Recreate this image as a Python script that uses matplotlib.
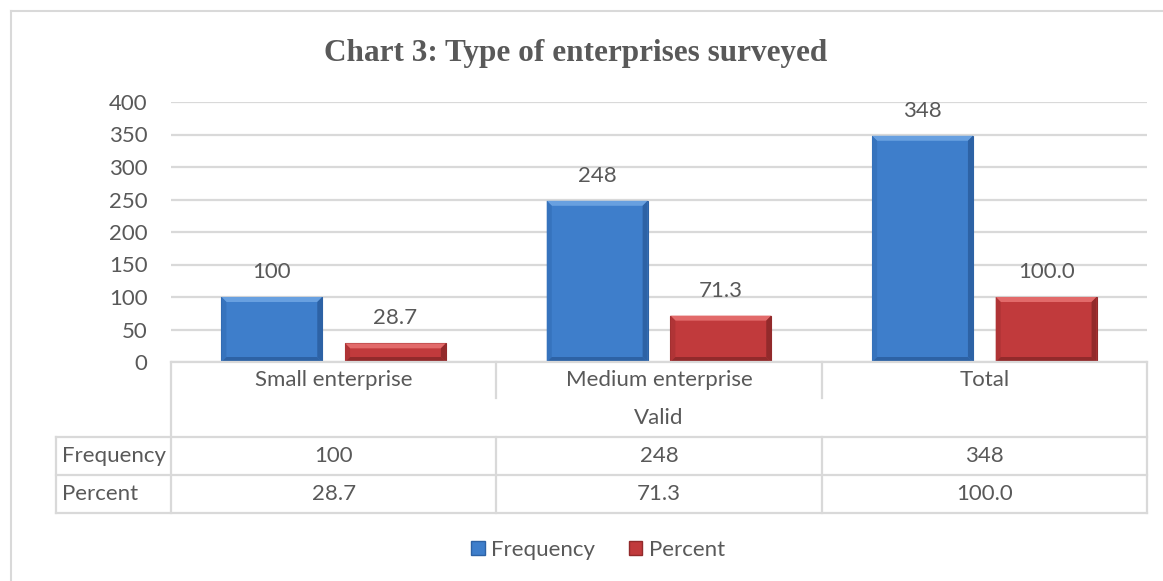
import numpy as np
import matplotlib.pyplot as plt
from matplotlib.patches import Polygon, Rectangle
from matplotlib.lines import Line2D

# data
categories = ["Small enterprise", "Medium enterprise", "Total"]
group_label = "Valid"
frequency = [100, 248, 348]
percent = [28.7, 71.3, 100.0]
series_names = ["Frequency", "Percent"]
yticks = [0, 50, 100, 150, 200, 250, 300, 350, 400]

W, H = 1163, 581
GRAY = "#595959"
LINE = "#d9d9d9"
FONT = "Lato"
FS = 16

fig = plt.figure(figsize=(W / 100, H / 100), dpi=100)


def fx(px):
    return px / W


def fy(py):
    return 1 - py / H


# plot area in pixels
left, right, top, bottom = 171, 1147, 102, 362
ax = fig.add_axes([fx(left), fy(bottom), fx(right - left), (bottom - top) / H])
ax.set_xlim(-0.5, len(categories) - 0.5)
ax.set_ylim(0, 400)
ax.set_yticks(yticks)
ax.set_yticklabels([str(t) for t in yticks], fontfamily=FONT, fontsize=FS, color=GRAY)
ax.tick_params(axis="y", length=0, pad=17)
ax.set_xticks([])
for s in ax.spines.values():
    s.set_visible(False)
ax.yaxis.grid(True, color=LINE, linewidth=1.6)
ax.set_axisbelow(True)

x = np.arange(len(categories))
offset = 0.19
bw = 0.31

# bevel size in data units
bev_px = 5
bx = bev_px * (len(categories)) / (right - left)
by = bev_px * 400 / (bottom - top)

styles = [
    dict(face="#3e7ecb", light="#68a0e0", dark="#2d62a5", side="#3673bd"),
    dict(face="#c13a3c", light="#e26a6a", dark="#922a2b", side="#b03436"),
]


def bevel_bar(xc, h, st):
    x0, x1 = xc - bw / 2, xc + bw / 2
    b = min(by, h / 3)
    ax.add_patch(Rectangle((x0, 0), bw, h, facecolor=st["face"], edgecolor=st["dark"],
                           linewidth=0.8, zorder=3))
    # top bevel
    ax.add_patch(Polygon([(x0, h), (x1, h), (x1 - bx, h - b), (x0 + bx, h - b)],
                         closed=True, facecolor=st["light"], edgecolor="none", zorder=4))
    # sides
    ax.add_patch(Polygon([(x0, 0), (x0 + bx, b), (x0 + bx, h - b), (x0, h)],
                         closed=True, facecolor=st["side"], edgecolor="none", zorder=4))
    ax.add_patch(Polygon([(x1, 0), (x1 - bx, b), (x1 - bx, h - b), (x1, h)],
                         closed=True, facecolor=st["dark"], edgecolor="none", zorder=4))
    ax.add_patch(Polygon([(x0, 0), (x1, 0), (x1 - bx, b), (x0 + bx, b)],
                         closed=True, facecolor=st["dark"], edgecolor="none", zorder=4))


for i, vals in enumerate([frequency, percent]):
    pos = x + (-offset if i == 0 else offset)
    for xc, v in zip(pos, vals):
        bevel_bar(xc, v, styles[i])
        lab = f"{v:.1f}" if i == 1 else f"{v:d}"
        ax.annotate(lab, (xc, v), xytext=(0, 18), textcoords="offset points",
                    ha="center", va="center", fontfamily=FONT, fontsize=FS, color=GRAY)

# title
fig.text(fx(576), fy(53), "Chart 3: Type of enterprises surveyed", ha="center", va="center",
         fontfamily="Liberation Serif", fontweight="bold", fontsize=22.5, color=GRAY)

# outer chart border
fig.add_artist(Line2D([fx(11), fx(W)], [fy(11), fy(11)], color=LINE, lw=1.5))
fig.add_artist(Line2D([fx(11), fx(11)], [fy(11), fy(H)], color=LINE, lw=1.5))


def hline(y, x0, x1):
    fig.add_artist(Line2D([fx(x0), fx(x1)], [fy(y), fy(y)], color=LINE, lw=1.6))


def vline(xp, y0, y1):
    fig.add_artist(Line2D([fx(xp), fx(xp)], [fy(y0), fy(y1)], color=LINE, lw=1.6))


# data table under the chart
row_cat, row_valid, row_f, row_p, row_end = 362, 398, 437, 475, 513
tab_left = 56
to_px = lambda xd: left + (xd + 0.5) / len(categories) * (right - left)
bounds = [to_px(b) for b in np.arange(len(categories) + 1) - 0.5]

hline(row_cat, left, right)
for yy in (row_f, row_p, row_end):
    hline(yy, tab_left, right)
vline(left, row_cat, row_end)
vline(right, row_cat, row_end)
vline(tab_left, row_f, row_end)
for b in bounds[1:-1]:
    vline(b, row_cat, row_valid)
    vline(b, row_f, row_end)

for i, c in enumerate(categories):
    cx = (bounds[i] + bounds[i + 1]) / 2
    fig.text(fx(cx), fy((row_cat + row_valid) / 2), c, ha="center", va="center",
             fontfamily=FONT, fontsize=FS, color=GRAY)
    fig.text(fx(cx), fy((row_f + row_p) / 2), f"{frequency[i]:d}", ha="center", va="center",
             fontfamily=FONT, fontsize=FS, color=GRAY)
    fig.text(fx(cx), fy((row_p + row_end) / 2), f"{percent[i]:.1f}", ha="center", va="center",
             fontfamily=FONT, fontsize=FS, color=GRAY)
fig.text(fx((left + right) / 2), fy((row_valid + row_f) / 2), group_label, ha="center",
         va="center", fontfamily=FONT, fontsize=FS, color=GRAY)
fig.text(fx(tab_left + 6), fy((row_f + row_p) / 2), series_names[0], ha="left", va="center",
         fontfamily=FONT, fontsize=FS, color=GRAY)
fig.text(fx(tab_left + 6), fy((row_p + row_end) / 2), series_names[1], ha="left", va="center",
         fontfamily=FONT, fontsize=FS, color=GRAY)

# legend
handles = [Rectangle((0, 0), 1, 1, facecolor=st["face"], edgecolor=st["dark"]) for st in styles]
fig.legend(handles, series_names, loc="center", bbox_to_anchor=(fx(598), fy(550)), ncol=2,
           frameon=False, prop=dict(family=FONT, size=FS), labelcolor=GRAY,
           handlelength=0.6, handleheight=0.6, handletextpad=0.3, columnspacing=1.5)

fig.savefig("out.png", dpi=100, facecolor="white")
